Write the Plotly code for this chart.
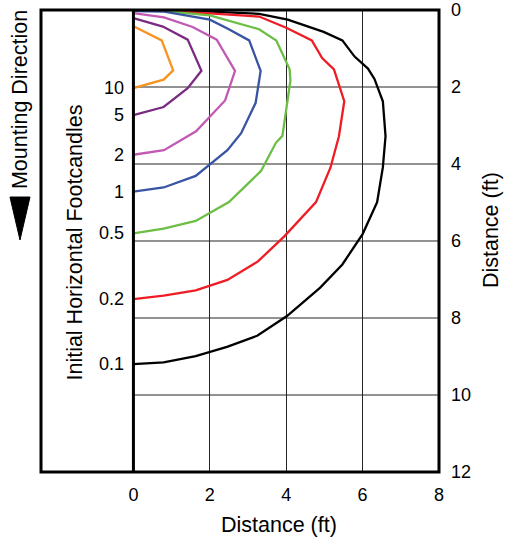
import plotly.graph_objects as go

# Isolux contour levels (initial horizontal footcandles)
levels = ["10", "5", "2", "1", "0.5", "0.2", "0.1"]
colors = ["#F7931E", "#7B2C82", "#C25AB4", "#3A54A4", "#6CBE45", "#EE1D25", "#000000"]

# Contour traces: distance along (ft) and distance down (ft)
x_10 = [0, 0.74, 1.04, 0.79, 0]
y_10 = [0.42, 0.79, 1.57, 1.81, 2.03]

x_5 = [0, 0.77, 1.42, 1.78, 1.42, 0.79, 0]
y_5 = [0.21, 0.43, 0.77, 1.58, 2.03, 2.52, 2.73]

x_2 = [0, 0.8, 1.55, 2.18, 2.66, 2.4, 1.64, 0.8, 0]
y_2 = [0.08, 0.19, 0.44, 0.77, 1.58, 2.35, 3.15, 3.64, 3.76]

x_1 = [0, 0.81, 2.0, 2.46, 3.03, 3.33, 3.20, 2.82, 2.46, 2.0, 1.63, 0.79, 0]
y_1 = [0.03, 0.04, 0.25, 0.48, 0.79, 1.58, 2.41, 3.2, 3.64, 4.0, 4.31, 4.61, 4.72]

x_05 = [0, 0.81, 2.0, 3.29, 3.74, 4.09, 4.11, 4.04, 3.90, 3.73, 3.34, 2.5, 1.63, 0.79, 0]
y_05 = [0.0, 0.03, 0.14, 0.50, 0.79, 1.54, 1.83, 2.27, 3.27, 3.45, 4.18, 4.99, 5.48, 5.68, 5.80]

x_02 = [0, 0.8, 2.0, 3.29, 4.0, 4.67, 4.94, 5.25, 5.52, 5.38, 5.16, 4.78, 3.95, 3.26, 2.46, 1.63, 0.79, 0]
y_02 = [0, 0.02, 0.09, 0.17, 0.46, 0.79, 1.25, 1.54, 2.37, 3.28, 4.09, 4.99, 5.88, 6.53, 7.01, 7.28, 7.42, 7.51]

x_01 = [0, 0.8, 1.72, 3.29, 4.04, 4.98, 5.47, 5.79, 6.14, 6.31, 6.53, 6.60, 6.53, 6.38, 6.0, 5.47, 4.89, 4.02, 3.24, 2.45, 1.63, 0.79, 0]
y_01 = [0, 0.01, 0.03, 0.1, 0.25, 0.57, 0.79, 1.21, 1.52, 1.79, 2.37, 3.28, 4.09, 4.99, 5.82, 6.61, 7.21, 7.95, 8.46, 8.75, 8.99, 9.15, 9.2]

xs = [x_10, x_5, x_2, x_1, x_05, x_02, x_01]
ys = [y_10, y_5, y_2, y_1, y_05, y_02, y_01]

x_ticks = [0, 2, 4, 6, 8]
y_ticks = [0, 2, 4, 6, 8, 10, 12]
h_grid = [2, 4, 6, 8, 10]

FONT = "Liberation Sans, Arial, Helvetica, sans-serif"
TITLE_SIZE = 21.5
GRID = "#262626"

fig = go.Figure()
for i in reversed(range(len(levels))):
    fig.add_trace(go.Scatter(x=xs[i], y=ys[i], mode="lines",
                             line=dict(color=colors[i], width=2.3),
                             name=levels[i], showlegend=False, hoverinfo="skip"))

shapes = []
for g in h_grid:
    shapes.append(dict(type="line", xref="x", yref="y", x0=0, x1=8, y0=g, y1=g,
                       line=dict(color=GRID, width=1.2), layer="below"))
# thick vertical line at x = 0
shapes.append(dict(type="line", xref="x", yref="paper", x0=0, x1=0, y0=0, y1=1,
                   line=dict(color="black", width=3)))
# frame
shapes.append(dict(type="rect", xref="paper", yref="paper", x0=0, x1=1, y0=0, y1=1,
                   line=dict(color="black", width=3)))
# mounting direction arrow
shapes.append(dict(type="path", xref="paper", yref="paper",
                   path="M -0.0779 0.5952 L -0.0276 0.5952 L -0.0528 0.5022 Z",
                   fillcolor="black", line=dict(color="black", width=1)))

annotations = []
for i, lab in enumerate(levels):
    annotations.append(dict(x=0, y=ys[i][-1], xref="x", yref="y", text=lab,
                            showarrow=False, xanchor="right", yanchor="middle",
                            xshift=-7, font=dict(family=FONT, size=18, color="black")))
annotations.append(dict(x=-1.54, y=6.05, xref="x", yref="y", text="Initial Horizontal Footcandles",
                        textangle=-90, showarrow=False, xanchor="center", yanchor="middle",
                        font=dict(family=FONT, size=TITLE_SIZE, color="black")))
annotations.append(dict(x=-0.053, y=0.807, xref="paper", yref="paper", text="Mounting Direction",
                        textangle=-90, showarrow=False, xanchor="center", yanchor="middle",
                        font=dict(family=FONT, size=TITLE_SIZE, color="black")))
annotations.append(dict(x=3.8, y=-0.115, xref="x", yref="paper", text="Distance (ft)",
                        showarrow=False, xanchor="center", yanchor="middle",
                        font=dict(family=FONT, size=TITLE_SIZE, color="black")))
annotations.append(dict(x=1.1313, y=5.71, xref="paper", yref="y", text="Distance (ft)",
                        textangle=-90, showarrow=False, xanchor="center", yanchor="middle",
                        font=dict(family=FONT, size=TITLE_SIZE, color="black")))

fig.update_layout(
    width=514, height=540, autosize=False,
    margin=dict(l=41, r=75, t=10, b=68, pad=0, autoexpand=False),
    paper_bgcolor="white", plot_bgcolor="white",
    font=dict(family=FONT, size=18, color="black"),
    shapes=shapes, annotations=annotations,
    xaxis=dict(range=[-2.42, 8], tickvals=x_ticks, showgrid=True, gridcolor=GRID,
               gridwidth=1.2, zeroline=False, showline=False, ticks="", automargin=False,
               ticklabelstandoff=10, tickfont=dict(family=FONT, size=18, color="black")),
    yaxis=dict(range=[12, 0], tickvals=y_ticks, side="right", showgrid=False,
               zeroline=False, showline=False, ticks="", ticklabelstandoff=11, automargin=False,
               tickfont=dict(family=FONT, size=18, color="black")),
)

fig.write_html("out.html", config={"displayModeBar": False},
               post_script="document.body.style.margin='0';")
